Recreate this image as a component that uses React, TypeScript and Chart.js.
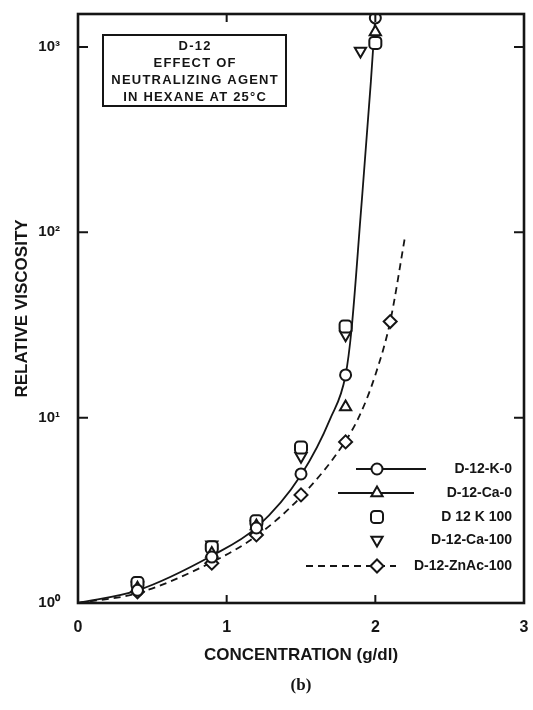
import React, { useEffect, useRef } from 'react';
import { Chart, registerables } from 'chart.js';
import { drawPoint } from 'chart.js/helpers';

Chart.register(...registerables);

// Measured relative viscosity of D-12 in hexane at 25 °C
const concentration = [0.4, 0.9, 1.2, 1.5, 1.8, 2.0];
const k0Viscosity = [1.17, 1.77, 2.54, 4.97, 17, 1436];
const ca0Conc = [0.4, 0.9, 1.2, 1.8, 2.0];
const ca0Viscosity = [1.2, 1.85, 2.6, 11.4, 1206];
const k100Viscosity = [1.28, 2.0, 2.76, 6.9, 31, 1052];
const ca100Conc = [0.4, 0.9, 1.2, 1.5, 1.8, 1.9];
const ca100Viscosity = [1.24, 2.06, 2.65, 6.2, 28, 953];
const znConc = [0.4, 0.9, 1.2, 1.5, 1.8, 2.1];
const znViscosity = [1.15, 1.64, 2.33, 3.83, 7.4, 33];

// Hand-drawn trend curves
const solidCurveConc = [0, 0.4, 0.9, 1.2, 1.5, 1.7, 1.8, 1.84, 1.9, 1.97, 2.0];
const solidCurveVisc = [1, 1.17, 1.8, 2.55, 4.9, 10, 17, 30, 120, 650, 1480];
const dashedCurveConc = [0, 0.4, 0.9, 1.2, 1.5, 1.8, 1.9, 2.0, 2.1, 2.2];
const dashedCurveVisc = [1, 1.13, 1.66, 2.3, 3.75, 7.5, 10.5, 17, 33, 95];

const xTicks = [0, 1, 2, 3];
const yTicks = [1, 10, 100, 1000];
const yTickLabels = ['10⁰', '10¹', '10²', '10³'];

const titleLines = ['D-12', 'EFFECT OF', 'NEUTRALIZING AGENT', 'IN HEXANE AT 25°C'];
const legendLabels = ['D-12-K-0', 'D-12-Ca-0', 'D 12 K 100', 'D-12-Ca-100', 'D-12-ZnAc-100'];

const INK = '#151515';
const FONT = '"Liberation Sans", Arial, sans-serif';

const pts = (xs: number[], ys: number[]) => xs.map((x, i) => ({ x, y: ys[i] }));

type MarkerStyle = { pointStyle: any; rotation: number; radius: number };
const markers: MarkerStyle[] = [
  { pointStyle: 'circle', rotation: 0, radius: 5.5 },
  { pointStyle: 'triangle', rotation: 0, radius: 6.5 },
  { pointStyle: 'rectRounded', rotation: 0, radius: 7 },
  { pointStyle: 'triangle', rotation: 180, radius: 6.5 },
  { pointStyle: 'rectRot', rotation: 0, radius: 6.5 },
];

const markerSet = (label: string, data: { x: number; y: number }[], m: MarkerStyle) => ({
  label,
  data,
  showLine: false,
  pointStyle: m.pointStyle,
  rotation: m.rotation,
  pointRadius: m.radius,
  pointBorderWidth: 2,
  pointBorderColor: INK,
  pointBackgroundColor: '#ffffff',
  borderColor: INK,
  backgroundColor: '#ffffff',
});

const decorPlugin = {
  id: 'decor',
  afterDraw(chart: any) {
    const { ctx, chartArea: a, scales } = chart;
    const xs = scales.x;
    const ys = scales.y;
    ctx.save();
    ctx.strokeStyle = INK;
    ctx.fillStyle = INK;

    // frame
    ctx.lineWidth = 2.6;
    ctx.strokeRect(a.left, a.top, a.right - a.left, a.bottom - a.top);

    // inward tick marks on all four sides
    ctx.lineWidth = 2;
    ctx.beginPath();
    xTicks.slice(1, -1).forEach((v) => {
      const px = xs.getPixelForValue(v);
      ctx.moveTo(px, a.bottom);
      ctx.lineTo(px, a.bottom - 8);
      ctx.moveTo(px, a.top);
      ctx.lineTo(px, a.top + 8);
    });
    yTicks.slice(1).forEach((v) => {
      const py = ys.getPixelForValue(v);
      ctx.moveTo(a.left, py);
      ctx.lineTo(a.left + 10, py);
      ctx.moveTo(a.right, py);
      ctx.lineTo(a.right - 10, py);
    });
    ctx.stroke();

    // boxed caption
    const bx = 103, by = 35, bw = 183, bh = 71;
    ctx.lineWidth = 2;
    ctx.strokeRect(bx, by, bw, bh);
    ctx.font = `bold 13px ${FONT}`;
    (ctx as any).letterSpacing = '1.2px';
    ctx.textAlign = 'center';
    ctx.textBaseline = 'middle';
    titleLines.forEach((t, i) => ctx.fillText(t, bx + bw / 2 + 0.6, by + 11 + i * 17));
    (ctx as any).letterSpacing = '0px';

    // legend
    const rowY = [469, 493, 517, 540, 566];
    const mx = 377;
    const lines: ([number, number, number[]] | null)[] = [
      [356, 426, []],
      [338, 414, []],
      null,
      null,
      [306, 396, [7, 5]],
    ];
    rowY.forEach((y, i) => {
      const seg = lines[i];
      if (seg) {
        ctx.setLineDash(seg[2]);
        ctx.lineWidth = 1.8;
        ctx.beginPath();
        ctx.moveTo(seg[0], y);
        ctx.lineTo(seg[1], y);
        ctx.stroke();
        ctx.setLineDash([]);
      }
      ctx.fillStyle = '#ffffff';
      ctx.strokeStyle = INK;
      ctx.lineWidth = 2;
      drawPoint(ctx, { ...markers[i], borderWidth: 2 }, mx, y);
      ctx.fillStyle = INK;
      ctx.font = `bold 14px ${FONT}`;
      ctx.textAlign = 'right';
      ctx.textBaseline = 'middle';
      ctx.fillText(legendLabels[i], 512, y);
    });

    // panel letter
    ctx.font = 'bold 17px "Liberation Serif", "DejaVu Serif", serif';
    ctx.textAlign = 'center';
    ctx.fillText('(b)', (a.left + a.right) / 2, 686);
    ctx.restore();
  },
};

export default function App() {
  const canvasRef = useRef<HTMLCanvasElement | null>(null);

  useEffect(() => {
    const canvas = canvasRef.current;
    if (!canvas) return;
    const chart = new Chart(canvas, {
      type: 'scatter',
      data: {
        datasets: [
          markerSet('D-12-K-0', pts(concentration, k0Viscosity), markers[0]),
          markerSet('D-12-Ca-0', pts(ca0Conc, ca0Viscosity), markers[1]),
          markerSet('D 12 K 100', pts(concentration, k100Viscosity), markers[2]),
          markerSet('D-12-Ca-100', pts(ca100Conc, ca100Viscosity), markers[3]),
          markerSet('D-12-ZnAc-100', pts(znConc, znViscosity), markers[4]),
          {
            label: 'solid curve',
            data: pts(solidCurveConc, solidCurveVisc),
            showLine: true,
            pointRadius: 0,
            borderColor: INK,
            borderWidth: 1.8,
            cubicInterpolationMode: 'monotone',
          } as any,
          {
            label: 'dashed curve',
            data: pts(dashedCurveConc, dashedCurveVisc),
            showLine: true,
            pointRadius: 0,
            borderColor: INK,
            borderWidth: 1.8,
            borderDash: [7, 5],
            cubicInterpolationMode: 'monotone',
          } as any,
        ],
      },
      options: {
        responsive: false,
        animation: false,
        events: [],
        layout: { padding: { top: 14, right: 8, left: 0, bottom: 0 } },
        plugins: {
          legend: { display: false },
          tooltip: { enabled: false },
        },
        scales: {
          x: {
            type: 'linear',
            min: 0,
            max: 3,
            afterBuildTicks: (s: any) => {
              s.ticks = xTicks.map((v) => ({ value: v }));
            },
            afterFit: (s: any) => {
              s.height = 107;
              s.paddingLeft = 0;
              s.paddingRight = 0;
            },
            grid: { display: false, drawTicks: false },
            border: { display: false },
            ticks: {
              color: INK,
              font: { family: FONT, size: 16, weight: 'bold' },
              padding: 15,
              maxRotation: 0,
              autoSkip: false,
              callback: (v: any) => String(v),
            },
            title: {
              display: true,
              text: 'CONCENTRATION (g/dl)',
              color: INK,
              font: { family: FONT, size: 17, weight: 'bold' },
              padding: { top: 0, bottom: 44 },
            },
          },
          y: {
            type: 'logarithmic',
            min: 1,
            max: 1507,
            afterBuildTicks: (s: any) => {
              s.ticks = yTicks.map((v) => ({ value: v }));
            },
            afterFit: (s: any) => {
              s.width = 78;
              s.paddingTop = 0;
              s.paddingBottom = 0;
            },
            grid: { display: false, drawTicks: false },
            border: { display: false },
            ticks: {
              color: INK,
              font: { family: FONT, size: 15, weight: 'bold' },
              padding: 18,
              autoSkip: false,
              callback: (v: any) => {
                const i = yTicks.indexOf(Number(v));
                return i >= 0 ? yTickLabels[i] : '';
              },
            },
            title: {
              display: true,
              text: 'RELATIVE VISCOSITY',
              color: INK,
              font: { family: FONT, size: 17, weight: 'bold' },
              padding: { top: 12, bottom: 0 },
            },
          },
        },
      },
      plugins: [decorPlugin],
    });
    return () => chart.destroy();
  }, []);

  return (
    <div style={{ position: 'absolute', left: 0, top: 0, width: 533, height: 710, background: '#fff' }}>
      <canvas ref={canvasRef} width={533} height={710} style={{ width: 533, height: 710, display: 'block' }} />
    </div>
  );
}
